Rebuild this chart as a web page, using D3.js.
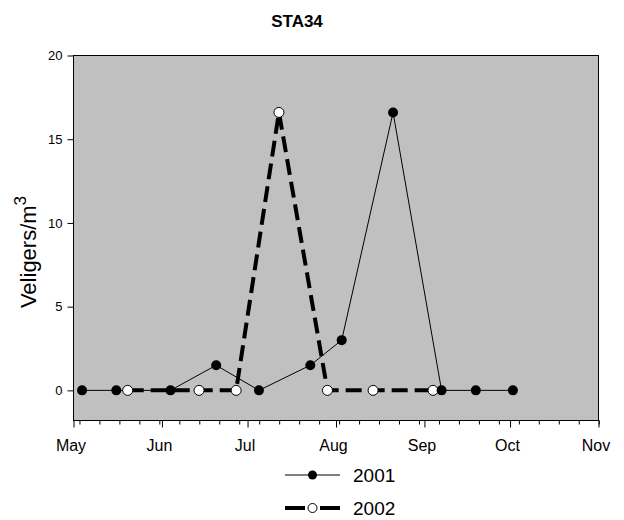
<!DOCTYPE html>
<html>
<head>
<meta charset="utf-8">
<script src="https://cdn.jsdelivr.net/npm/d3@7"></script>
<style>
  body { margin: 0; background: #fff; }
  text { font-family: "Liberation Sans", Arial, sans-serif; fill: #000; }
</style>
</head>
<body>
<svg id="chart" width="624" height="520"></svg>
<script>
// STA34 -- veliger counts, two seasons overlaid on one May..Nov axis

var dates2001 = ["2001-05-04", "2001-05-16", "2001-06-04", "2001-06-20", "2001-07-05",
                 "2001-07-23", "2001-08-03", "2001-08-21", "2001-09-07", "2001-09-19", "2001-10-02"];
var values2001 = [0, 0, 0, 1.5, 0, 1.5, 3, 16.6, 0, 0, 0];

var dates2002 = ["2001-05-20", "2001-06-14", "2001-06-27", "2001-07-12", "2001-07-29",
                 "2001-08-14", "2001-09-04"];
var values2002 = [0, 0, 0, 16.6, 0, 0, 0];

var yTicks = [0, 5, 10, 15, 20];
var monthTicks = ["2001-05-01", "2001-06-01", "2001-07-01", "2001-08-01",
                  "2001-09-01", "2001-10-01", "2001-11-01"];
var seriesNames = ["2001", "2002"];

var parse = d3.timeParse("%Y-%m-%d");

var svg = d3.select("#chart");
var plotLeft = 73.5, plotRight = 598.5, plotTop = 55.5, plotBottom = 420.5;

var x = d3.scaleTime()
  .domain([parse("2001-05-01"), parse("2001-11-01")])
  .range([plotLeft, plotRight]);
var y = d3.scaleLinear()
  .domain([-1.8, 20])
  .range([plotBottom, plotTop]);

// plot area
svg.append("rect")
  .attr("x", plotLeft).attr("y", plotTop)
  .attr("width", plotRight - plotLeft).attr("height", plotBottom - plotTop)
  .attr("fill", "#c0c0c0")
  .attr("stroke", "#000").attr("stroke-width", 1);

// title
svg.append("text")
  .attr("x", 297).attr("y", 27)
  .attr("text-anchor", "middle")
  .style("font-size", "17px").style("font-weight", "bold")
  .text("STA34");

// y axis
var yAxis = svg.append("g")
  .attr("transform", "translate(" + plotLeft + ",0)")
  .call(d3.axisLeft(y).tickValues(yTicks).tickSize(6).tickPadding(5));
yAxis.select(".domain").remove();
yAxis.selectAll("text").style("font-size", "13px").attr("fill", "#000");

svg.append("text")
  .attr("transform", "translate(36,252) rotate(-90)")
  .attr("text-anchor", "middle")
  .style("font-size", "22px")
  .html('Veligers/m<tspan dy="-10" style="font-size:17px">3</tspan>');

// x axis: weekly minor ticks, monthly major ticks
var minorDates = d3.range(0, 27).map(function (k) {
  return d3.timeHour.offset(parse("2001-05-01"), (2 + 7 * k) * 24 + 2);
});
var xMinor = svg.append("g")
  .attr("transform", "translate(0," + plotBottom + ")")
  .call(d3.axisBottom(x).tickValues(minorDates).tickSize(4).tickFormat(""));
xMinor.select(".domain").remove();

var xMajor = svg.append("g")
  .attr("transform", "translate(0," + plotBottom + ")")
  .call(d3.axisBottom(x).tickValues(monthTicks.map(parse)).tickSize(7)
        .tickPadding(12).tickFormat(d3.timeFormat("%b")));
xMajor.select(".domain").remove();
xMajor.selectAll("text").style("font-size", "16px").attr("fill", "#000").attr("dx", -3);

// series
var pts2001 = dates2001.map(function (d, i) { return { date: parse(d), v: values2001[i] }; });
var pts2002 = dates2002.map(function (d, i) { return { date: parse(d), v: values2002[i] }; });

var line = d3.line()
  .x(function (d) { return x(d.date); })
  .y(function (d) { return y(d.v); });

svg.append("path").datum(pts2001)
  .attr("d", line).attr("fill", "none")
  .attr("stroke", "#000").attr("stroke-width", 1);

svg.append("path").datum(pts2002)
  .attr("d", line).attr("fill", "none")
  .attr("stroke", "#000").attr("stroke-width", 4)
  .attr("stroke-dasharray", "16,7");

svg.append("g").selectAll("circle").data(pts2002).enter().append("circle")
  .attr("cx", function (d) { return x(d.date); })
  .attr("cy", function (d) { return y(d.v); })
  .attr("r", 5).attr("fill", "#fff").attr("stroke", "#000").attr("stroke-width", 1);

svg.append("g").selectAll("circle").data(pts2001).enter().append("circle")
  .attr("cx", function (d) { return x(d.date); })
  .attr("cy", function (d) { return y(d.v); })
  .attr("r", 5).attr("fill", "#000");

// legend
var legend = svg.append("g");
seriesNames.forEach(function (name, i) {
  var ly = 475 + i * 33;
  var item = legend.append("g").attr("transform", "translate(285," + ly + ")");
  if (i === 0) {
    item.append("line").attr("x1", 0).attr("x2", 55).attr("y1", 0).attr("y2", 0)
      .attr("stroke", "#000").attr("stroke-width", 1);
    item.append("circle").attr("cx", 27.5).attr("cy", 0).attr("r", 4.5).attr("fill", "#000");
  } else {
    item.append("line").attr("x1", 0).attr("x2", 55).attr("y1", 0).attr("y2", 0)
      .attr("stroke", "#000").attr("stroke-width", 4).attr("stroke-dasharray", "20,15");
    item.append("circle").attr("cx", 27.5).attr("cy", 0).attr("r", 4.5)
      .attr("fill", "#fff").attr("stroke", "#000");
  }
  item.append("text").attr("x", 68).attr("y", 0).attr("dy", "0.35em")
    .style("font-size", "19px").text(name);
});
</script>
</body>
</html>
